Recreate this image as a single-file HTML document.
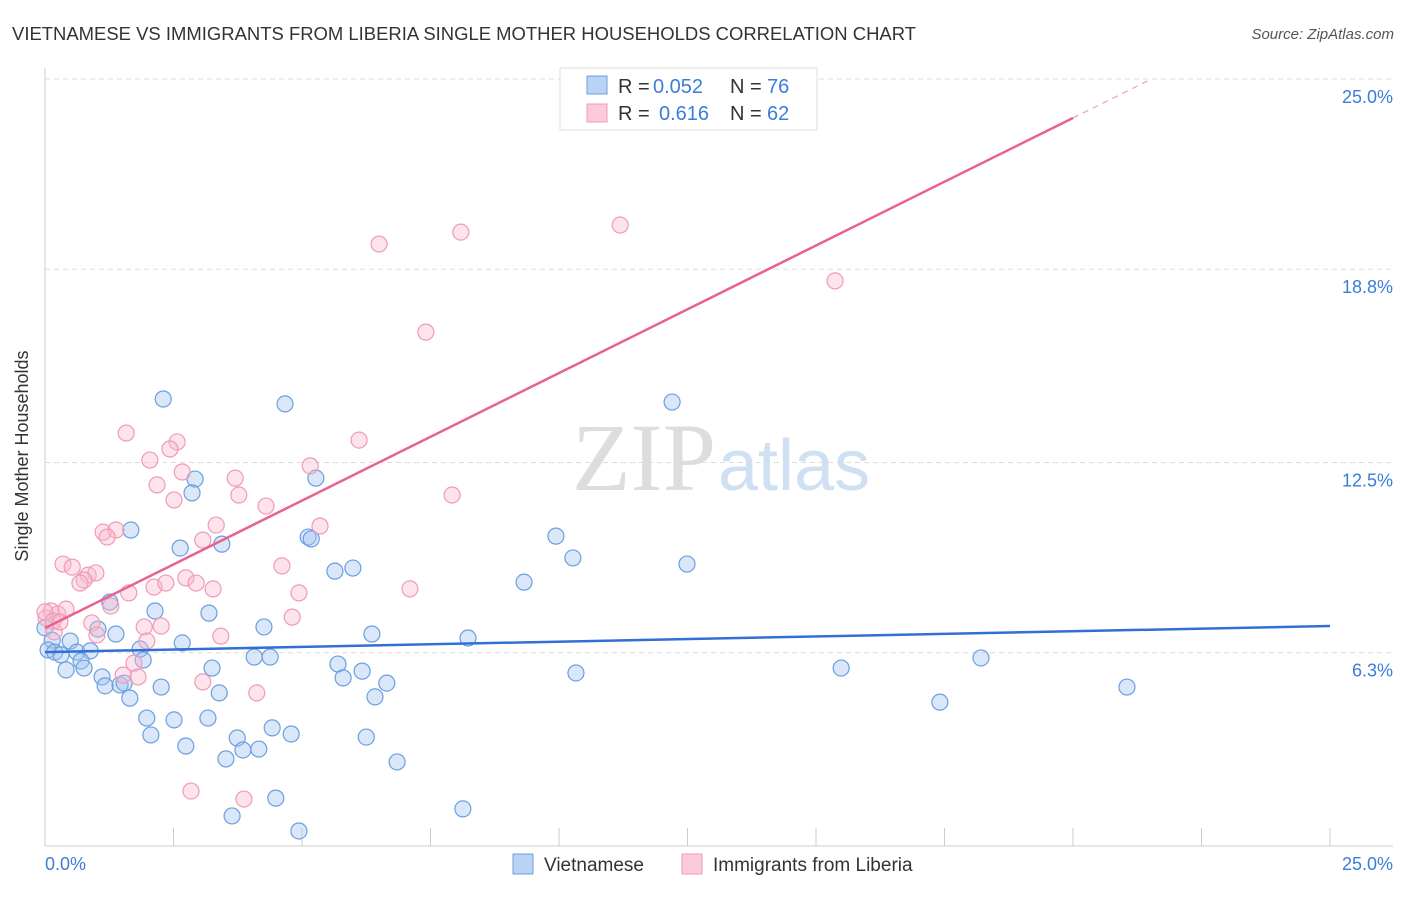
<!DOCTYPE html>
<html><head><meta charset="utf-8"><style>
body{margin:0;background:#fff;font-family:"Liberation Sans",sans-serif}
</style></head><body>
<svg id="c" width="1406" height="892" xmlns="http://www.w3.org/2000/svg">
<text x="12" y="40" font-size="18" fill="#333" textLength="904" lengthAdjust="spacingAndGlyphs">VIETNAMESE VS IMMIGRANTS FROM LIBERIA SINGLE MOTHER HOUSEHOLDS CORRELATION CHART</text>
<text x="1394" y="39" font-size="15" fill="#555" font-style="italic" text-anchor="end">Source: ZipAtlas.com</text>
<text x="716" y="490" font-size="96" fill="#ddd" text-anchor="end" font-family="Liberation Serif,serif">ZIP</text>
<text x="718" y="490" font-size="72" fill="#cfe0f2">atlas</text>
<text x="28" y="456" font-size="18" fill="#333" text-anchor="middle" transform="rotate(-90 28 456)">Single Mother Households</text>
<g id="grid"></g><g id="marks"></g>
<g>
<rect x="560" y="68" width="257" height="62" fill="#fff" stroke="#ddd"/>
<rect x="587" y="76" width="20" height="18" fill="#b8d3f3" stroke="#6a9fe0"/>
<rect x="587" y="104" width="20" height="18" fill="#fbcadb" stroke="#f09ab8"/>
<text x="618" y="93" font-size="20" fill="#333">R =</text><text x="653" y="93" font-size="20" fill="#3b7dd8">0.052</text>
<text x="730" y="93" font-size="20" fill="#333">N =</text><text x="767" y="93" font-size="20" fill="#3b7dd8">76</text>
<text x="618" y="120" font-size="20" fill="#333">R =</text><text x="659" y="120" font-size="20" fill="#3b7dd8">0.616</text>
<text x="730" y="120" font-size="20" fill="#333">N =</text><text x="767" y="120" font-size="20" fill="#3b7dd8">62</text>
</g>
<g>
<rect x="513" y="854" width="20" height="20" fill="#b8d3f3" stroke="#6a9fe0"/>
<text x="544" y="871" font-size="19" fill="#333">Vietnamese</text>
<rect x="682" y="854" width="20" height="20" fill="#fbcadb" stroke="#f09ab8"/>
<text x="713" y="871" font-size="19" fill="#333">Immigrants from Liberia</text>
</g>
</svg>
<script>
const yTicks=[25.0,18.8,12.5,6.3];
const yTickLabels=["25.0%","18.8%","12.5%","6.3%"];
const blueX=[];const blueY=[];const pinkX=[];const pinkY=[];
const bluePx=[[163,399],[285,404],[672,402],[195,479],[192,493],[316,478],[131,530],[180,548],[222,544],[308,537],[311,539],[556,536],[573,558],[687,564],[524,582],[335,571],[353,568],[110,602],[155,611],[209,613],[264,627],[372,634],[468,638],[98,629],[116,634],[182,643],[45,628],[52,640],[70,641],[48,650],[55,652],[61,655],[77,652],[90,651],[81,661],[84,668],[66,670],[140,649],[143,660],[212,668],[254,657],[270,657],[338,664],[362,671],[343,678],[576,673],[841,668],[981,658],[102,677],[105,686],[120,685],[124,683],[161,687],[219,693],[387,683],[375,697],[130,698],[940,702],[1127,687],[147,718],[174,720],[208,718],[272,728],[151,735],[237,738],[291,734],[366,737],[186,746],[243,750],[259,749],[226,759],[397,762],[276,798],[463,809],[232,816],[299,831]];
const pinkPx=[[379,244],[461,232],[620,225],[835,281],[426,332],[126,433],[177,442],[359,440],[150,460],[170,449],[182,472],[235,478],[310,466],[157,485],[174,500],[239,495],[266,506],[452,495],[103,532],[116,530],[107,537],[216,525],[320,526],[203,540],[63,564],[72,567],[88,575],[96,573],[84,580],[80,583],[129,593],[154,587],[166,583],[186,578],[196,583],[213,589],[282,566],[299,593],[410,589],[51,611],[58,614],[66,609],[46,618],[111,606],[92,623],[144,627],[161,626],[292,617],[97,635],[147,641],[221,636],[54,632],[134,663],[123,675],[138,677],[203,682],[257,693],[191,791],[244,799],[45,612],[53,621],[60,622]];
bluePx.forEach(p=>{blueX.push(+((p[0]-45)/51.4).toFixed(2));blueY.push(+((846-p[1])/30.68).toFixed(2));});
pinkPx.forEach(p=>{pinkX.push(+((p[0]-45)/51.4).toFixed(2));pinkY.push(+((846-p[1])/30.68).toFixed(2));});
const blueTrend=[6.32,7.17];const pinkTrend=[7.1,23.73];
const NS="http://www.w3.org/2000/svg";
const sx=v=>45+v*51.4, sy=v=>846-v*30.68;
function mk(t,a,parent){const e=document.createElementNS(NS,t);for(const k in a)e.setAttribute(k,a[k]);parent.appendChild(e);return e;}
const g=document.getElementById('grid'),m=document.getElementById('marks');
yTicks.forEach((t,i)=>{
 const l=mk('line',{x1:45,x2:1393,y1:sy(t),y2:sy(t),stroke:'#ddd','stroke-dasharray':'5,4'},g);
 
 
 const tx=mk('text',{x:1393,y:sy(t)+24,'font-size':18,fill:'#3b7dd8','text-anchor':'end'},g);
 tx.textContent=yTickLabels[i];
 
 
});
mk('line',{x1:45,x2:45,y1:68,y2:846,stroke:'#ccc'},g);
mk('line',{x1:45,x2:1393,y1:846,y2:846,stroke:'#ccc'},g);
for(let i=0;i<=10;i++){const t=mk('line',{x1:sx(i*2.5),x2:sx(i*2.5),y1:828,y2:846,stroke:'#ccc'},g);
 
 }
let a=mk('text',{x:45,y:870,'font-size':18,fill:'#3b7dd8'},g);a.textContent='0.0%';


a=mk('text',{x:1393,y:870,'font-size':18,fill:'#3b7dd8','text-anchor':'end'},g);a.textContent='25.0%';


blueX.forEach((x,i)=>{const c=mk('circle',{cx:sx(x),cy:sy(blueY[i]),r:8,fill:'rgba(160,195,240,0.4)',stroke:'#6a9fe0','stroke-width':1.2},m);
 
 });
pinkX.forEach((x,i)=>{const c=mk('circle',{cx:sx(x),cy:sy(pinkY[i]),r:8,fill:'rgba(248,185,208,0.4)',stroke:'#f09ab8','stroke-width':1.2},m);
 
 });
let l=mk('line',{x1:sx(0),y1:sy(blueTrend[0]),x2:sx(25),y2:sy(blueTrend[1]),stroke:'#2f6fd6','stroke-width':2.5},m);


const slope=(pinkTrend[1]-pinkTrend[0])/20;
l=mk('line',{x1:sx(0),y1:sy(pinkTrend[0]),x2:sx(20),y2:sy(pinkTrend[1]),stroke:'#e8628e','stroke-width':2.5},m);


const xe=20+(25-pinkTrend[1])/slope;
l=mk('line',{x1:sx(20),y1:sy(pinkTrend[1]),x2:sx(xe),y2:sy(25),stroke:'#f0a0b8','stroke-width':1.2,'stroke-dasharray':'6,5'},m);


</script>
</body></html>
